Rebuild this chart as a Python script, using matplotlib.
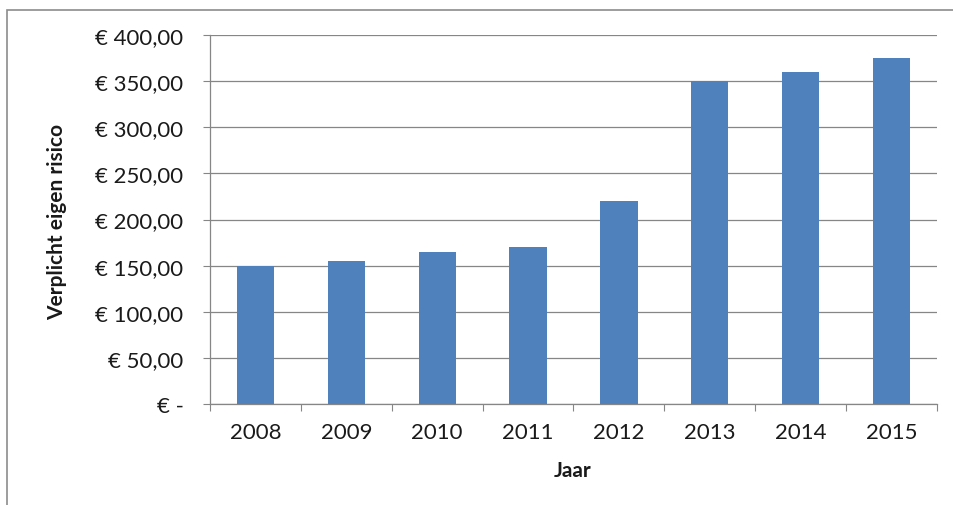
import matplotlib
matplotlib.use("Agg")
import matplotlib.pyplot as plt
from matplotlib.patches import Rectangle
import numpy as np

years = ["2008", "2009", "2010", "2011", "2012", "2013", "2014", "2015"]
eigen_risico = [150, 155, 165, 170, 220, 350, 360, 375]
y_ticks = [0, 50, 100, 150, 200, 250, 300, 350, 400]
y_tick_labels = ["€ -", "€ 50,00", "€ 100,00", "€ 150,00", "€ 200,00",
                 "€ 250,00", "€ 300,00", "€ 350,00", "€ 400,00"]

plt.rcParams['font.family'] = ['Lato', 'DejaVu Sans']
W, H = 954, 506
fig = plt.figure(figsize=(W/100, H/100), dpi=100)
fig.patch.set_facecolor('white')

# outer chart frame
fig.add_artist(Rectangle((7/W, -0.05), 1.0, (H-11)/H + 0.05, transform=fig.transFigure,
                         fill=False, edgecolor='#8c8c8c', linewidth=1.2))

ax = fig.add_axes([210/W, 1-405/H, (937-210)/W, (405-36)/H])
x = np.arange(len(years))
ax.bar(x, eigen_risico, width=0.41, color='#4F81BD', zorder=3)
ax.set_xlim(-0.5, len(years)-0.5)
ax.set_ylim(0, 400)
ax.set_yticks(y_ticks)
ax.set_yticklabels(y_tick_labels, fontsize=16, color='#1a1a1a')
ax.set_xticks(x)
ax.set_xticklabels(years, fontsize=16, color='#1a1a1a')
ax.xaxis.set_minor_locator(matplotlib.ticker.FixedLocator(np.arange(-0.5, len(years), 1)))
ax.tick_params(axis='x', which='major', length=0, pad=13)
ax.tick_params(axis='x', which='minor', length=5, color='#868686', width=0.8)
ax.tick_params(axis='y', length=5, color='#868686', width=0.8, pad=14)
ax.grid(axis='y', color='#868686', linewidth=0.9, zorder=0)
for s in ['top', 'right']:
    ax.spines[s].set_visible(False)
for s in ['left', 'bottom']:
    ax.spines[s].set_color('#868686')
    ax.spines[s].set_linewidth(0.9)

fig.text(57/W, 1-222/H, "Verplicht eigen risico", rotation=90, ha='center', va='center',
         fontsize=15, fontweight='bold', color='#1a1a1a')
fig.text(573/W, 1-471/H, "Jaar", ha='center', va='center',
         fontsize=15, fontweight='bold', color='#1a1a1a')

fig.savefig("out.png", dpi=100)
